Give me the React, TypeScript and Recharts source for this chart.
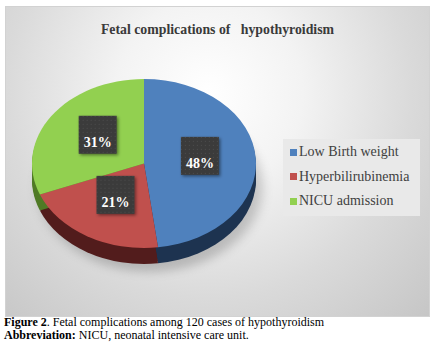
import { PieChart, Pie, Cell, Legend } from 'recharts';

const CATEGORIES = ['Low Birth weight', 'Hyperbilirubinemia', 'NICU admission'];
const PERCENTS = [48, 21, 31];
const TOP_COLORS = ['#4f81bd', '#c0504d', '#92d050'];
const SIDE_COLORS = ['#1d3350', '#521c1c', '#4f7a25'];

const data = CATEGORIES.map((name, i) => ({ name, value: PERCENTS[i] }));

// the disc is drawn as a circle in a chart squashed vertically by K
const K = 0.754;
const CX = 138;
const CY = 156.5;
const R = 112;
const W = 423;
const H = 309;
const LABEL_LIFT = 5;
const SIDE_STEPS = [2, 4, 6, 8, 10, 12, 14, 16];
const SERIF = "'Liberation Serif', 'Times New Roman', serif";
const RAD = Math.PI / 180;
const NO_MARGIN = { top: 0, right: 0, bottom: 0, left: 0 };

const squash = { position: 'absolute' as const, left: 0, top: 0, transform: `scaleY(${K})`, transformOrigin: '0 0' };

function renderLabel(props: any) {
  const { cx, cy, midAngle, outerRadius, value } = props;
  const x = cx + outerRadius * 0.5 * Math.cos(-midAngle * RAD);
  const y = cy - LABEL_LIFT + outerRadius * 0.5 * K * Math.sin(-midAngle * RAD);
  return (
    <g transform={`translate(${x},${y})`}>
      <rect x={-19} y={-19} width={38} height={38} fill="url(#dots)" filter="url(#boxShadow)" />
      <text x={0} y={12} textAnchor="middle" fill="#fff" fontFamily={SERIF} fontWeight="bold" fontSize={14}>
        {value}%
      </text>
    </g>
  );
}

function LegendBox({ payload }: any) {
  const items = [...(payload || [])].sort((a: any, b: any) => CATEGORIES.indexOf(a.value) - CATEGORIES.indexOf(b.value));
  return (
    <div style={{ background: '#e9e9e9', width: 137, height: 77, boxSizing: 'border-box', paddingTop: 1, paddingLeft: 7 }}>
      {items.map((p: any, i: number) => (
        <div key={i} style={{ height: 24.5, display: 'flex', alignItems: 'center', fontFamily: SERIF, fontSize: 14, color: '#404040', whiteSpace: 'nowrap' }}>
          <span style={{ width: 7, height: 7, background: p.color, marginRight: 2, display: 'inline-block' }} />
          {p.value}
        </div>
      ))}
    </div>
  );
}

export default function App() {
  return (
    <div style={{ position: 'absolute', left: 0, top: 0, width: 439, height: 355, background: '#fff' }}>
      <div
        style={{
          position: 'absolute', left: 5, top: 6, width: 425, height: 311, boxSizing: 'border-box',
          border: '1px solid #d2d2d2',
          background: 'radial-gradient(ellipse at 48% 28%, #ffffff 0%, #f3f3f3 30%, #dadada 65%, #c6c6c6 100%)',
        }}
      >
        <div style={{ position: 'absolute', left: 0, right: 0, top: 15, textAlign: 'center', fontFamily: SERIF, fontWeight: 'bold', fontSize: 13.8, color: '#3a3a3a', whiteSpace: 'pre' }}>
          {'Fetal complications of   hypothyroidism'}
        </div>

        {/* soft shadow under the disc */}
        <div style={{ ...squash, filter: 'blur(6px)', opacity: 0.3 }}>
          <PieChart width={W} height={H / K} margin={NO_MARGIN}>
            <Pie data={data} dataKey="value" cx={CX + 6} cy={(CY + 24) / K} outerRadius={R} startAngle={90} endAngle={-270} stroke="none" isAnimationActive={false}>
              {data.map((d) => <Cell key={d.name} fill="#555" />)}
            </Pie>
          </PieChart>
        </div>

        {/* side wall and top face */}
        <div style={squash}>
          <PieChart width={W} height={H / K} margin={NO_MARGIN}>
            {SIDE_STEPS.map((s) => (
              <Pie key={s} data={data} dataKey="value" cx={CX} cy={(CY + s) / K} outerRadius={R} startAngle={90} endAngle={-270} stroke="none" isAnimationActive={false}>
                {data.map((d, i) => <Cell key={d.name} fill={SIDE_COLORS[i]} />)}
              </Pie>
            ))}
            <Pie data={data} dataKey="value" cx={CX} cy={CY / K} outerRadius={R} startAngle={90} endAngle={-270} stroke="none" isAnimationActive={false}>
              {data.map((d, i) => <Cell key={d.name} fill={TOP_COLORS[i]} />)}
            </Pie>
          </PieChart>
        </div>

        {/* labels and legend */}
        <PieChart width={W} height={H} margin={NO_MARGIN} style={{ position: 'absolute', left: 0, top: 0 }}>
          <defs>
            <pattern id="dots" width="4" height="4" patternUnits="userSpaceOnUse">
              <rect width="4" height="4" fill="#3a3a3a" />
              <rect x="1" y="1" width="1" height="1" fill="#4e4e4e" />
            </pattern>
            <filter id="boxShadow" x="-30%" y="-30%" width="160%" height="160%">
              <feDropShadow dx="1.5" dy="1.5" stdDeviation="1.5" floodColor="#000" floodOpacity="0.45" />
            </filter>
          </defs>
          <Pie data={data} dataKey="value" cx={CX} cy={CY} outerRadius={R} startAngle={90} endAngle={-270} stroke="none" label={renderLabel} labelLine={false} isAnimationActive={false}>
            {data.map((d, i) => <Cell key={d.name} fill={TOP_COLORS[i]} fillOpacity={0} />)}
          </Pie>
          <Legend layout="vertical" content={<LegendBox />} wrapperStyle={{ left: 277, top: 132, width: 137, height: 77 }} />
        </PieChart>
      </div>
      <div style={{ position: 'absolute', left: 4, top: 316, fontFamily: SERIF, fontSize: 12, lineHeight: '13px', color: '#000' }}>
        <div><b>Figure 2</b>. Fetal complications among 120 cases of hypothyroidism</div>
        <div><b>Abbreviation:</b> NICU, neonatal intensive care unit.</div>
      </div>
    </div>
  );
}
